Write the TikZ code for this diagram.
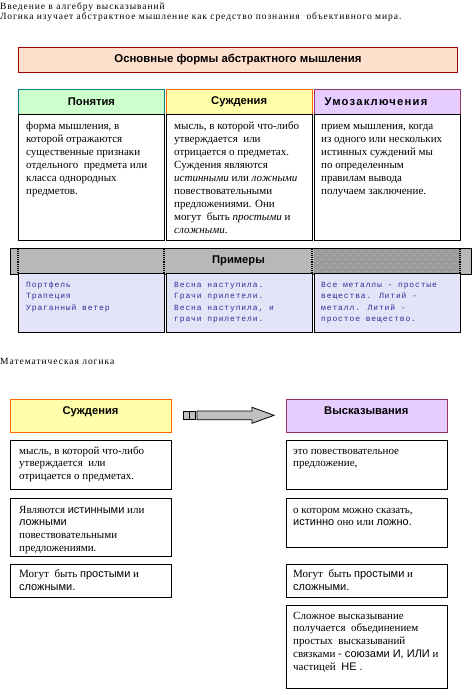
\documentclass[tikz,border=0pt]{standalone}
\usepackage{fontspec}
\setmainfont{Liberation Serif}
\newfontfamily\arialf{Liberation Sans}
\newfontfamily\introf{Liberation Serif}[LetterSpace=10]
\newfontfamily\monof{Liberation Mono}[LetterSpace=11]
\newcommand\myst{\rule{0pt}{8.5pt}}
\newcommand\arw[1]{{\arialf #1}}
\definecolor{peach}{HTML}{FFE0CC}
\definecolor{darkred}{HTML}{990000}
\definecolor{lgreen}{HTML}{CCFFCC}
\definecolor{teal2}{HTML}{008080}
\definecolor{lyellow}{HTML}{FFFFAA}
\definecolor{orange2}{HTML}{FF6600}
\definecolor{lviolet}{HTML}{E6CCFF}
\definecolor{purple2}{HTML}{993366}
\definecolor{exfill}{HTML}{E4E4F8}
\definecolor{bandgray}{HTML}{B8B8B8}
\definecolor{banddark}{HTML}{9C9C9C}
\definecolor{exblue}{HTML}{2E2E99}
\definecolor{arrowgray}{HTML}{C0C0C0}
\begin{document}
\begin{tikzpicture}[x=1pt,y=-1pt,
  box/.style={draw, line width=0.9pt, inner sep=0pt, anchor=north west},
  txt/.style={anchor=north west, inner sep=0pt, align=left, font=\fontsize{11}{13}\selectfont},
  ltxt/.style={anchor=north west, inner sep=0pt, align=left, font=\fontsize{11}{12.7}\selectfont},
  extxt/.style={anchor=north west, inner sep=0pt, align=left, text=exblue, font=\monof\fontsize{8}{11.5}\selectfont},
  intro/.style={anchor=north west, inner sep=0pt, font=\introf\fontsize{9.5}{11}\selectfont},
  head/.style={font=\arialf\bfseries\fontsize{11.2}{13}\selectfont, inner sep=0pt}
]
\useasboundingbox (0,0) rectangle (471,695);

% intro
\node[intro] (intro1) at (0,0.7) {\myst Введение в алгебру высказываний};
\node[intro] (intro2) at (0,11.2) {\myst Логика изучает абстрактное мышление как средство познания\ \ объективного мира.};

% title
\node[box, draw=darkred, fill=peach, minimum width=439pt, minimum height=25pt] (title) at (18,47) {};
\node[font=\arialf\bfseries\fontsize{11.4}{13}\selectfont, inner sep=0pt] (titlet) at (title.center) {Основные формы абстрактного мышления};

% headers
\node[box, draw=teal2, fill=lgreen, minimum width=146pt, minimum height=25pt] (h1) at (18,89) {};
\node[box, draw=orange2, fill=lyellow, minimum width=145.5pt, minimum height=25pt] (h2) at (166,89) {};
\node[box, draw=purple2, fill=lviolet, minimum width=145.7pt, minimum height=25pt] (h3) at (314.3,89) {};
\node[head] (h1t) at (h1.center) {Понятия};
\node[head] (h2t) at (h2.center) {Суждения};
\node[head] (h3t) at (376,101.5) {{\addfontfeatures{LetterSpace=11}Умозаключения}};

% bodies
\node[box, minimum width=146pt, minimum height=126pt] (b1) at (18,114) {};
\node[box, minimum width=145.5pt, minimum height=126pt] (b2) at (166,114) {};
\node[box, minimum width=145.7pt, minimum height=126pt] (b3) at (314.3,114) {};
\node[txt] (c1t) at (26,120.5) {\myst форма мышления, в\\которой отражаются\\существенные признаки\\отдельного\ \ предмета или\\класса однородных\\предметов.};
\node[txt] (c2t) at (174,120.5) {\myst мысль, в которой что-либо\\утверждается\ \ или\\отрицается о предметах.\\Суждения являются\\\textit{истинными} или \textit{ложными}\\повествовательными\\предложениями. Они\\могут\ \ быть \textit{простыми} и\\\textit{сложными}.};
\node[txt] (c3t) at (321,120.5) {\myst прием мышления, когда\\из одного или нескольких\\истинных суждений мы\\по определенным\\правилам вывода\\получаем заключение.};

% examples band
\node[box, draw=none, fill=bandgray, minimum width=460.7pt, minimum height=25pt] (band) at (10,248.3) {};
\fill[banddark] (314,248.3) rectangle (460,273.3);
\foreach \yy [count=\k] in {251.5,255.5,259.5,263.5,267.5,271.5}{
  \pgfmathsetmacro\xs{mod(\k,2)==0 ? 318 : 322}
  \foreach \xx in {0,8,...,136}{
    \fill[white] (\xs+\xx,\yy) circle (0.45);
  }
}
\draw[line width=0.9pt] (band.north west) rectangle (band.south east);
\foreach \xx in {18,164,312,460}{
  \draw[densely dotted, line width=1.1pt] (\xx,248.8) -- (\xx,272.8);
}
\node[head] (bandt) at (238.5,260.8) {Примеры};

% examples boxes
\node[box, fill=exfill, minimum width=146pt, minimum height=59pt] (e1) at (18,273.3) {};
\node[box, fill=exfill, minimum width=145.5pt, minimum height=59pt] (e2) at (166,273.3) {};
\node[box, fill=exfill, minimum width=145.7pt, minimum height=59pt] (e3) at (314.3,273.3) {};
\node[extxt] (ex1t) at (26,278.5) {\myst Портфель\\Трапеция\\Ураганный ветер};
\node[extxt] (ex2t) at (174,278.5) {\myst Весна наступила.\\Грачи прилетели.\\Весна наступила, и\\грачи прилетели.};
\node[extxt] (ex3t) at (321,278.5) {\myst Все металлы - простые\\вещества. Литий -\\металл. Литий -\\простое вещество.};

% second part
\node[intro] (mathl) at (0,356) {\myst Математическая логика};

\node[box, draw=orange2, fill=lyellow, minimum width=160.4pt, minimum height=33pt] (s) at (10.3,399.3) {};
\node[box, draw=purple2, fill=lviolet, minimum width=160.7pt, minimum height=33pt] (v) at (286,399.3) {};
\node[head, anchor=base] (st) at (90.5,414.5) {Суждения};
\node[head, anchor=base] (vt) at (366.3,414.5) {Высказывания};

% block arrow
\draw[line width=0.8pt, fill=arrowgray] (183.3,411) rectangle (189,419.7);
\draw[line width=0.8pt, fill=arrowgray] (189,411) rectangle (195,419.7);
\draw[line width=0.8pt, fill=arrowgray] (197,411) -- (252,411) -- (252,407.3) -- (274,415.3) -- (252,423.3) -- (252,419.7) -- (197,419.7) -- cycle;

% lower boxes
\node[box, minimum width=160.4pt, minimum height=49.3pt] (l1) at (10.3,440) {};
\node[box, minimum width=160.4pt, minimum height=57.4pt] (l2) at (10.3,498.3) {};
\node[box, minimum width=160.4pt, minimum height=33.6pt] (l3) at (10.3,563.7) {};
\node[box, minimum width=160.7pt, minimum height=49.3pt] (r1) at (286,440) {};
\node[box, minimum width=160.7pt, minimum height=49pt] (r2) at (286,498.3) {};
\node[box, minimum width=160.7pt, minimum height=33.6pt] (r3) at (286,563.7) {};
\node[box, minimum width=160.7pt, minimum height=83pt] (r4) at (286,605.3) {};

\node[ltxt] (l1t) at (19,445.5) {\myst мысль, в которой что-либо\\утверждается\ \ или\\отрицается о предметах.};
\node[ltxt] (l2t) at (19,504.5) {\myst Являются \arw{истинными} или\\\arw{ложными}\\повествовательными\\предложениями.};
\node[ltxt] (l3t) at (19,569) {\myst Могут\ \ быть \arw{простыми} и\\\arw{сложными.}};
\node[ltxt] (r1t) at (293,445.5) {\myst это повествовательное\\предложение,};
\node[ltxt] (r2t) at (293,504.5) {\myst о котором можно сказать,\\\arw{истинно} оно или \arw{ложно.}};
\node[ltxt] (r3t) at (293,569) {\myst Могут\ \ быть \arw{простыми} и\\\arw{сложными.}};
\node[ltxt] (r4t) at (293,610.5) {\myst Сложное высказывание\\получается\ \ объединением\\простых\ \ высказываний\\связками \arw{- союзами И, ИЛИ} и\\частицей\ \ \arw{НЕ .}};
\end{tikzpicture}
\end{document}
